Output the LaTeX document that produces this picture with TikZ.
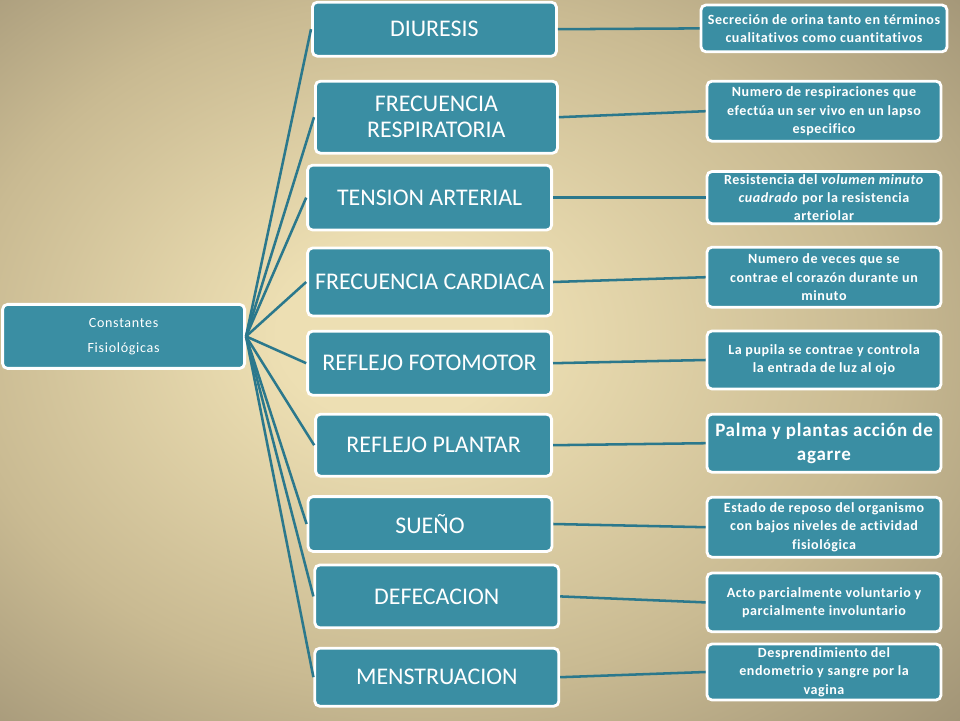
\documentclass[tikz,border=0pt]{standalone}
\usepackage{fontspec}
\setmainfont{Carlito}[Ligatures=NoCommon]
\newfontfamily\descfont{Carlito}[LetterSpace=4.0,Ligatures=NoCommon]
\newfontfamily\rootfont{Carlito}[LetterSpace=5.0,Ligatures=NoCommon]
\usetikzlibrary{positioning}
\definecolor{BoxTeal}{HTML}{3A8EA3}
\definecolor{LinkTeal}{HTML}{2B788C}
\definecolor{BgLight}{HTML}{EDDFB3}
\definecolor{BgMid}{HTML}{C9BA92}
\definecolor{BgDark}{HTML}{8E8269}
\pgfdeclareradialshading{parchment}{\pgfpoint{-5bp}{2bp}}{%
  color(0bp)=(BgLight); color(6bp)=(BgLight); color(24bp)=(BgMid); color(44bp)=(BgDark); color(60bp)=(BgDark)}

\begin{document}
\begin{tikzpicture}[
      tealbox/.style={
        rounded corners=3.5pt,
        draw=white,
        line width=2pt,
        fill=BoxTeal,
        text=white,
        align=center,
        inner sep=2pt
      },
      rootbox/.style={tealbox, minimum width=6.05cm, minimum height=1.6cm,
        font=\rootfont\fontsize{10}{17.5}\selectfont},
      term/.style={tealbox, minimum width=6.1cm,
        font=\fontsize{17}{18.5}\selectfont},
      desc/.style={tealbox, minimum width=5.85cm,
        font=\descfont\bfseries\fontsize{10}{13}\selectfont},
      link/.style={draw=LinkTeal, line width=1.8pt}
    ]
      \shade[shading=parchment] (0,0) rectangle (24,18);
      \useasboundingbox (0,0) rectangle (24,18);

      % root
      \node[rootbox] (root) at (3.09,9.59) {Constantes\\Fisiológicas};

      % middle column
      \node[term, minimum height=1.35cm] (diuresis) at (10.86,17.27) {DIURESIS};
      \node[term, minimum width=6.05cm, minimum height=1.8cm] (resp) at (10.91,15.07) {FRECUENCIA\\RESPIRATORIA};
      \node[term, minimum height=1.62cm] (tension) at (10.74,13.06) {TENSION ARTERIAL};
      \node[term, minimum height=1.7cm] (cardiaca) at (10.74,10.95) {FRECUENCIA CARDIACA};
      \node[term, minimum height=1.6cm] (fotomotor) at (10.74,8.92) {REFLEJO FOTOMOTOR};
      \node[term, minimum width=5.9cm, minimum height=1.55cm] (plantar) at (10.84,6.87) {REFLEJO PLANTAR};
      \node[term, minimum height=1.37cm] (sueno) at (10.75,4.9) {SUEÑO};
      \node[term, minimum height=1.57cm] (defec) at (10.92,3.09) {DEFECACION};
      \node[term, minimum height=1.45cm] (menstr) at (10.92,1.07) {MENSTRUACION};

      % right column
      \node[desc, minimum width=6.15cm, minimum height=1.17cm] (d-diuresis) at (20.6,17.29)
        {Secreción de orina tanto en términos\\cualitativos como cuantitativos};
      \node[desc, minimum height=1.5cm] (d-resp) at (20.6,15.22)
        {Numero de respiraciones que\\efectúa un ser vivo en un lapso\\especifico};
      \node[desc, minimum height=1.27cm] (d-tension) at (20.6,13.06)
        {Resistencia del \textit{volumen minuto}\\\textit{cuadrado} por la resistencia\\arteriolar};
      \node[desc, minimum height=1.5cm] (d-cardiaca) at (20.6,11.07)
        {Numero de veces que se\\contrae el corazón durante un\\minuto};
      \node[desc, minimum height=1.45cm] (d-fotomotor) at (20.6,9.0)
        {La pupila se contrae y controla\\la entrada de luz al ojo};
      \node[desc, minimum height=1.45cm, font=\descfont\bfseries\fontsize{13.5}{17}\selectfont] (d-plantar) at (20.6,6.92)
        {Palma y plantas acción de\\agarre};
      \node[desc, minimum height=1.5cm] (d-sueno) at (20.6,4.82)
        {Estado de reposo del organismo\\con bajos niveles de actividad\\fisiológica};
      \node[desc, minimum height=1.47cm] (d-defec) at (20.6,2.94)
        {Acto parcialmente voluntario y\\parcialmente involuntario};
      \node[desc, minimum height=1.4cm] (d-menstr) at (20.6,1.2)
        {Desprendimiento del\\endometrio y sangre por la\\vagina};

      % links root -> terms
      \draw[link] (root.east) -- (diuresis.west);
      \draw[link] (root.east) -- (resp.west);
      \draw[link] (root.east) -- (tension.west);
      \draw[link] (root.east) -- (cardiaca.west);
      \draw[link] (root.east) -- (fotomotor.west);
      \draw[link] (root.east) -- (plantar.west);
      \draw[link] (root.east) -- (sueno.west);
      \draw[link] (root.east) -- (defec.west);
      \draw[link] (root.east) -- (menstr.west);

      % links terms -> descriptions
      \draw[link] (diuresis.east) -- (d-diuresis.west);
      \draw[link] (resp.east) -- (d-resp.west);
      \draw[link] (tension.east) -- (d-tension.west);
      \draw[link] (cardiaca.east) -- (d-cardiaca.west);
      \draw[link] (fotomotor.east) -- (d-fotomotor.west);
      \draw[link] (plantar.east) -- (d-plantar.west);
      \draw[link] (sueno.east) -- (d-sueno.west);
      \draw[link] (defec.east) -- (d-defec.west);
      \draw[link] (menstr.east) -- (d-menstr.west);
    \end{tikzpicture}
\end{document}
